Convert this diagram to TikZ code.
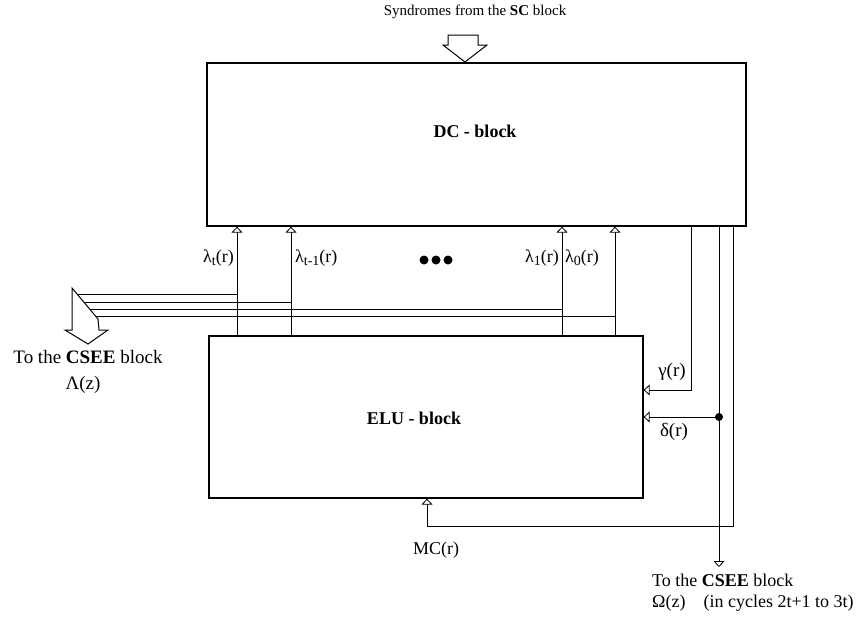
\documentclass[tikz,border=0pt]{standalone}
\usepackage{fontspec}
\setmainfont{Liberation Serif}
\usetikzlibrary{arrows.meta}

\newcommand{\lsub}[1]{\raisebox{-0.35ex}{\fontsize{14}{16}\selectfont #1}}

\begin{document}
\begin{tikzpicture}[
  x=1pt, y=-1pt,
  box/.style={draw, line width=1.3pt, inner sep=0pt},
  sig/.style={line width=0.8pt},
  into/.style={-{Triangle[open, length=6pt, width=11pt]}, line width=0.8pt},
  hollow/.style={draw, fill=white, line width=1pt, line join=miter},
  lbl/.style={font=\fontsize{18}{21}\selectfont, inner sep=1pt},
  biglbl/.style={font=\fontsize{19}{22}\selectfont, inner sep=1pt}
]
  \useasboundingbox (0,0) rectangle (859,621);

  % --- the two blocks ---
  \node[box, minimum width=539pt, minimum height=163pt] (DC) at (476.5,144.5) {};
  \node[box, minimum width=434pt, minimum height=162pt] (ELU) at (426,417) {};
  \node[lbl] (dctext) at (475,131) {\textbf{DC - block}};
  \node[lbl] (elutext) at (414,418) {\textbf{ELU - block}};

  % --- syndromes coming in from the top ---
  \node[lbl, font=\fontsize{15}{17}\selectfont] (synd) at (475,12)
        {Syndromes from the \textbf{SC} block};
  \draw[hollow] (448,35) -- (478,35) -- (478,45) -- (487,45) -- (465,62)
        -- (443,45) -- (448,45) -- cycle;

  % --- lambda outputs of the ELU, fed back to DC and out on the bus ---
  \coordinate (lt)    at (237,0);
  \coordinate (ltm)   at (291,0);
  \coordinate (lone)  at (562,0);
  \coordinate (lzero) at (615,0);
  \coordinate (bt)    at (78,294);
  \coordinate (btm)   at (84,302);
  \coordinate (bone)  at (90,309);
  \coordinate (bzero) at (95,316);
  \foreach \c/\b in {lt/bt, ltm/btm, lone/bone, lzero/bzero} {
    \draw[into] (\c |- ELU.north) -- (\c |- DC.south);
    \draw[sig] (\c |- \b) -- (\b);
  }
  \node[lbl, anchor=east] (lbt)    at (235,258) {λ\lsub{t}(r)};
  \node[lbl, anchor=west] (lbtm)   at (294,258) {λ\lsub{t-1}(r)};
  \node[lbl, anchor=east] (lbone)  at (560,258) {λ\lsub{1}(r)};
  \node[lbl, anchor=west] (lbzero) at (564,258) {λ\lsub{0}(r)};
  \foreach \x in {424,436,448} \fill (\x,260) circle (4.5pt);

  % bus arrow to the CSEE block
  \draw[hollow] (72,288) -- (98,319) -- (99,330) -- (108,330) -- (88,344)
        -- (65,330) -- (72,330) -- cycle;
  \node[biglbl] (lout1) at (88,357) {To the \textbf{CSEE} block};
  \node[biglbl] (lout2) at (83,385) {Λ(z)};

  % --- gamma, delta and MC from DC back into ELU ---
  \coordinate (gtap)  at (691,390);
  \coordinate (dtap)  at (719,417);
  \coordinate (mtap)  at (733,526);
  \coordinate (mcin)  at (427,526);
  \coordinate (omega) at (719,567);
  \draw[into] (gtap |- DC.south) -- (gtap) -- (gtap -| ELU.east);
  \draw[sig] (dtap |- DC.south) -- (dtap);
  \draw[into] (dtap) -- (dtap -| ELU.east);
  \draw[into] (dtap) -- (omega);
  \fill (dtap) circle (4pt);
  \draw[into] (mtap |- DC.south) -- (mtap) -- (mcin) -- (mcin |- ELU.south);
  \node[biglbl] (glab) at (672,372) {γ(r)};
  \node[biglbl] (dlab) at (674,432) {δ(r)};
  \node[lbl] (mclab) at (436,550) {MC(r)};

  % output to the CSEE block
  \node[lbl, anchor=west] (out1) at (651,580) {To the \textbf{CSEE} block};
  \node[lbl, anchor=west] (out2) at (651,603) {Ω(z)\quad(in cycles 2t+1 to 3t)};
\end{tikzpicture}
\end{document}
